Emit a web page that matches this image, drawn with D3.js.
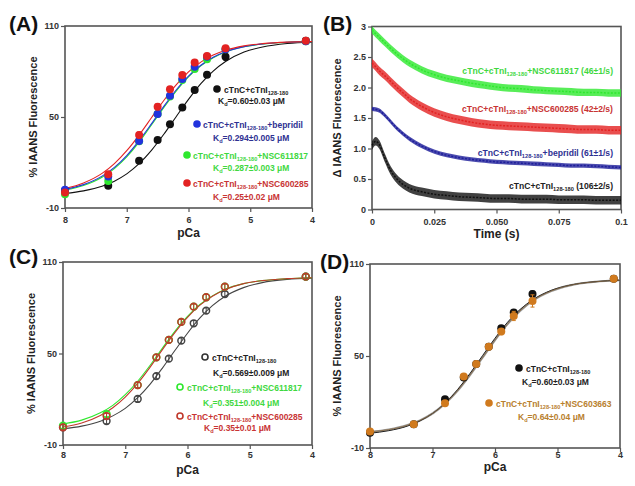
<!DOCTYPE html>
<html><head><meta charset="utf-8">
<script src="https://cdn.jsdelivr.net/npm/d3@7"></script>
<style>
body{margin:0;background:#fff}
text{font-family:"Liberation Sans",Arial,sans-serif;font-weight:bold}
</style>
</head><body>
<svg id="c" width="635" height="486"></svg>
<script>
// ---------- DATA ----------
const pCa = [8, 7.3, 6.8, 6.5, 6.3, 6.1, 5.9, 5.7, 5.4, 4.1];
const pCaTicks = [8, 7, 6, 5, 4];
const pctTicks = [-10, 50, 110];

// Panel A measured points
const aBlack = [1.5, 4.7, 21.2, 34.8, 45.2, 56.2, 67.8, 77.9, 89.8, 100.3];
const aBlue  = [2, 10.7, 34.2, 52, 64, 75, 83.2, 89.8, 94.6, 100];
const aGreen = [-1, 7.8, 34, 52, 63.5, 74.4, 81.7, 88, 94.6, 100];
const aRed   = [0.3, 12.2, 38.1, 56.8, 68.3, 77.7, 86, 90.2, 95.3, 100.3];
const aBlackErr = [0.5, 1, 1, 1, 1, 1, 1, 1, 2.5, 0.5];
const aRedErr   = [0.5, 1, 2, 2, 1, 1, 1, 1, 1, 0.5];

// fitted curves
const fitPca = [8, 7.7, 7.4, 7.2, 7.0, 6.8, 6.6, 6.4, 6.2, 6.0, 5.8, 5.6, 5.4, 5.1, 4.8, 4.4, 4.0];
const fitABlack = [-0.4, 1.3, 4.3, 7.7, 12.5, 19.2, 28, 38.6, 50.2, 61.6, 72, 80.3, 86.6, 92.8, 96.2, 98.5, 99.4];
const fitABlue  = [2.3, 5.4, 11.0, 16.8, 24.6, 34.4, 45.5, 57, 67.8, 77, 84.1, 89.4, 93, 96.4, 98.2, 99.3, 99.7];
const fitAGreen = [1.7, 4.8, 10.3, 16.0, 23.7, 33.4, 44.7, 56.2, 67.1, 76.5, 83.7, 89.1, 92.9, 96.3, 98.1, 99.2, 99.7];
const fitARed   = [2.8, 6.5, 12.8, 19.3, 27.8, 38.1, 49.5, 60.9, 71.2, 79.7, 86.2, 90.8, 94.0, 96.9, 98.4, 99.4, 99.7];

// Panel B stopped-flow traces
const timeB = [0, 0.0015, 0.003, 0.005, 0.0075, 0.01, 0.0125, 0.015, 0.02, 0.025, 0.03, 0.035, 0.04, 0.045, 0.05, 0.055, 0.06, 0.065, 0.07, 0.075, 0.08, 0.085, 0.09, 0.095, 0.1];
const bGreen = [2.94, 2.88, 2.82, 2.74, 2.64, 2.55, 2.47, 2.40, 2.29, 2.21, 2.15, 2.11, 2.07, 2.04, 2.01, 1.99, 1.98, 1.96, 1.95, 1.94, 1.93, 1.92, 1.92, 1.91, 1.91];
const bRed   = [2.40, 2.34, 2.27, 2.20, 2.10, 2.00, 1.91, 1.82, 1.69, 1.59, 1.52, 1.47, 1.43, 1.40, 1.38, 1.37, 1.36, 1.35, 1.34, 1.33, 1.32, 1.31, 1.31, 1.30, 1.30];
const bBlue  = [1.65, 1.64, 1.62, 1.55, 1.44, 1.33, 1.24, 1.16, 1.04, 0.95, 0.89, 0.85, 0.82, 0.80, 0.78, 0.77, 0.76, 0.75, 0.74, 0.73, 0.72, 0.72, 0.71, 0.70, 0.69];
const bBlack = [1.05, 1.12, 1.06, 0.86, 0.64, 0.50, 0.41, 0.35, 0.29, 0.25, 0.23, 0.21, 0.20, 0.19, 0.18, 0.18, 0.17, 0.17, 0.17, 0.16, 0.16, 0.16, 0.15, 0.15, 0.15];
const bNoise = [0.06, 0.07, 0.035, 0.07]; // green, red, blue, black half-widths of the noise band
const timeTicks = [0, 0.025, 0.05, 0.075, 0.1];
const timeTickLabels = ["0", "0.025", "0.050", "0.075", "0.1"];
const deltaTicks = [0, 0.5, 1, 1.5, 2, 2.5, 3];
const deltaTickLabels = ["0", "0.5", "1.0", "1.5", "2.0", "2.5", "3"];

// Panel C
const cBlack = [1.6, 5.7, 20.2, 35.2, 46.6, 58.4, 69.8, 78.1, 89, 100.4];
const cGreen = [2.7, 10.3, 29.3, 47.5, 58.9, 70.7, 80.7, 86.9, 93.8, 100.4];
const cRed   = [1.6, 9, 29.3, 47.5, 58.9, 70.7, 80.7, 86.9, 93.8, 100.4];
const fitCBlack = [0.7, 2.4, 5.6, 9.1, 14.0, 21.0, 29.9, 40.6, 52.1, 63.3, 73.3, 81.4, 87.4, 93.2, 96.5, 98.6, 99.4];
const fitCGreen = [3.8, 6.3, 11.1, 16.0, 23.0, 31.8, 42.3, 53.7, 64.7, 74.3, 82.1, 87.8, 92.0, 95.8, 97.8, 99.1, 99.7];
const fitCRed   = [1.8, 4.4, 9.3, 14.4, 21.4, 30.4, 41.1, 52.7, 63.9, 73.7, 81.7, 87.6, 91.8, 95.8, 97.8, 99.1, 99.7];

// Panel D
const dBlack  = [0, 5.5, 21.8, 35.9, 44.8, 56.1, 68.1, 78.3, 90.4, 100.4];
const dOrange = [0.7, 5.5, 19.2, 36.6, 44.8, 56.1, 65.9, 76.1, 85.9, 100.4];
const dBlackErr  = [0.5, 0.5, 1, 1, 1, 1, 1, 1.5, 2, 0.5];
const dOrangeErr = [0.5, 0.5, 1.5, 1, 1, 1, 2, 3, 4, 0.5];
const fitDBlack  = [-0.4, 1.3, 4.3, 7.7, 12.5, 19.2, 28, 38.6, 50.2, 61.6, 72, 80.3, 86.6, 92.8, 96.2, 98.5, 99.4];
const fitDOrange = [0.5, 2.0, 4.9, 8.0, 12.5, 18.9, 27.3, 37.6, 48.9, 60.4, 70.8, 79.4, 86.0, 92.4, 96.1, 98.4, 99.4];

// Colours
const C = {black:"#111", blue:"#2233dd", blueTxt:"#2e3192", blueTrace:"#1e1e9a",
  green:"#2ee82e", greenTxt:"#3fd83f", red:"#e32222", redTxt:"#c83434", redC:"#c0392b",
  orange:"#d07a1e", orangeTxt:"#b8802e", frame:"#555"};

// ---------- DRAW ----------
const svg = d3.select("#c");

function makePanel(o){
  const g = svg.append("g");
  const x = d3.scaleLinear().domain(o.xd).range([o.x0, o.x1]);
  const y = d3.scaleLinear().domain(o.yd).range([o.y1, o.y0]);
  const xa = d3.axisBottom(x).tickValues(o.xt).tickSize(4).tickSizeOuter(0)
     .tickFormat((d,i)=> o.xl ? o.xl[i] : d);
  const ya = d3.axisLeft(y).tickValues(o.yt).tickSize(4).tickSizeOuter(0)
     .tickFormat((d,i)=> o.yl ? o.yl[i] : d);
  const gx = g.append("g").attr("transform",`translate(0,${o.y1})`).call(xa);
  const gy = g.append("g").attr("transform",`translate(${o.x0},0)`).call(ya);
  [gx,gy].forEach(a=>{
    a.select(".domain").remove();
    a.selectAll("line").attr("stroke",C.frame).attr("stroke-width",1.2);
    a.selectAll("text").attr("font-size",9).attr("fill","#333")
      .style("font-family","'Liberation Sans',Arial,sans-serif").style("font-weight","bold");
  });
  gx.selectAll("text").attr("y",o.tickOff).attr("dy",0);
  gy.selectAll("text").attr("x",-6);
  g.append("rect").attr("x",o.x0).attr("y",o.y0).attr("width",o.x1-o.x0).attr("height",o.y1-o.y0)
    .attr("fill","none").attr("stroke",C.frame).attr("stroke-width",1.6);
  g.append("text").attr("x",o.tagX).attr("y",o.tagY).attr("font-size",21).attr("fill","#111").text(o.tag);
  g.append("text").attr("x",(o.x0+o.x1)/2).attr("y",o.xlabY).attr("text-anchor","middle")
    .attr("font-size",12).attr("fill","#222").text(o.xlab);
  g.append("text").attr("transform",`translate(${o.ylabX},${(o.y0+o.y1)/2}) rotate(-90)`)
    .attr("text-anchor","middle").attr("font-size",11).attr("fill","#222").text(o.ylab);
  const plot = g.append("g");
  return {g:plot, x, y};
}

function fitLine(p, xs, ys, color, w){
  const line = d3.line().x((d,i)=>p.x(xs[i])).y(d=>p.y(d)).curve(d3.curveMonotoneX);
  p.g.append("path").datum(ys).attr("d",line).attr("fill","none")
    .attr("stroke",color).attr("stroke-width",w||1.1);
}
function points(p, ys, color, errs, open){
  if (errs){
    ys.forEach((v,i)=>{
      const e = errs[i], xx = p.x(pCa[i]);
      p.g.append("line").attr("x1",xx).attr("x2",xx).attr("y1",p.y(v-e)).attr("y2",p.y(v+e))
        .attr("stroke",color).attr("stroke-width",1);
      [v-e, v+e].forEach(z=>p.g.append("line").attr("x1",xx-2).attr("x2",xx+2)
        .attr("y1",p.y(z)).attr("y2",p.y(z)).attr("stroke",color).attr("stroke-width",1));
    });
  }
  p.g.selectAll(null).data(ys).enter().append("circle")
    .attr("cx",(d,i)=>p.x(pCa[i])).attr("cy",d=>p.y(d)).attr("r",open?3.4:4)
    .attr("fill",open?"none":color).attr("stroke",color).attr("stroke-width",open?1.5:0);
}
function label(x, y, parts, color, size, anchor){
  const fs = size||8.5;
  const t = svg.append("text").attr("x",x).attr("y",y).attr("fill",color)
    .attr("font-size",fs).attr("text-anchor",anchor||"start");
  let sub = false;
  parts.forEach(p=>{
    const ts = t.append("tspan").text(p.t);
    if (p.s && !sub){ ts.attr("dy",2.2).attr("font-size",fs*0.66); sub = true; }
    else if (!p.s && sub){ ts.attr("dy",-2.2); sub = false; }
    else if (p.s) ts.attr("font-size",fs*0.66);
  });
  return t;
}
function dot(x,y,color,open){
  svg.append("circle").attr("cx",x).attr("cy",y).attr("r",open?3:3.8)
    .attr("fill",open?"none":color).attr("stroke",color).attr("stroke-width",open?1.6:0);
}
const base = [{t:"cTnC+cTnI"},{t:"128-180",s:true}];
const kd = v => [{t:"K"},{t:"d",s:true},{t:"="+v+" \u03BCM"}];

// Panel A
const pA = makePanel({x0:65,x1:312,y0:26,y1:208,xd:[8,4],yd:[-10,110],xt:pCaTicks,yt:pctTicks,tickOff:15,
  tag:"(A)",tagX:9,tagY:31,xlab:"pCa",xlabY:237,ylab:"% IAANS Fluorescence",ylabX:37});
fitLine(pA, fitPca, fitABlack, C.black);
fitLine(pA, fitPca, fitAGreen, C.green);
fitLine(pA, fitPca, fitABlue, C.blue);
fitLine(pA, fitPca, fitARed, C.red);
points(pA, aBlack, C.black, aBlackErr);
points(pA, aGreen, C.green);
points(pA, aBlue, C.blue);
points(pA, aRed, C.red, aRedErr);
dot(217,89,C.black); label(224,93,base,"#222");
label(218,104,kd("0.60\u00B10.03"),"#222");
dot(197,124,C.blue); label(203,128,base.concat([{t:"+bepridil"}]),C.blueTxt);
label(213,141,kd("0.294\u00B10.005"),C.blueTxt);
dot(187,155,C.green); label(193,159,base.concat([{t:"+NSC611817"}]),C.greenTxt);
label(213,171,kd("0.287\u00B10.003"),C.greenTxt);
dot(187,183,C.red); label(193,187,base.concat([{t:"+NSC600285"}]),C.redTxt);
label(213,200,kd("0.25\u00B10.02"),C.redTxt);

// Panel B
const pB = makePanel({x0:372,x1:621,y0:26.5,y1:209.5,xd:[0,0.1],yd:[0,3],xt:timeTicks,xl:timeTickLabels,
  yt:deltaTicks,yl:deltaTickLabels,tickOff:15,tag:"(B)",tagX:323,tagY:31,xlab:"Time (s)",xlabY:238,
  ylab:"\u0394 IAANS Fluorescence",ylabX:341});
[[bGreen,C.green,bNoise[0]],[bRed,C.red,bNoise[1]],[bBlue,C.blueTrace,bNoise[2]],[bBlack,C.black,bNoise[3]]]
 .forEach(([vals,col,h])=>{
  const area = d3.area().x((d,i)=>pB.x(timeB[i])).y0(d=>pB.y(d-h)).y1(d=>pB.y(d+h)).curve(d3.curveMonotoneX);
  pB.g.append("path").datum(vals).attr("d",area).attr("fill",col).attr("opacity",0.8);
  const line = d3.line().x((d,i)=>pB.x(timeB[i])).y(d=>pB.y(d)).curve(d3.curveMonotoneX);
  pB.g.append("path").datum(vals).attr("d",line).attr("fill","none").attr("stroke",col)
    .attr("stroke-width",1.5).attr("stroke-dasharray","2,1.5");
});
label(613,74,base.concat([{t:"+NSC611817 (46\u00B11/s)"}]),C.greenTxt,8.6,"end");
label(613,112,base.concat([{t:"+NSC600285 (42\u00B12/s)"}]),C.redTxt,8.6,"end");
label(613,156,base.concat([{t:"+bepridil (61\u00B11/s)"}]),C.blueTxt,8.6,"end");
label(613,189,base.concat([{t:" (106\u00B12/s)"}]),"#222",8.6,"end");

// Panel C
const pC = makePanel({x0:63,x1:312,y0:262,y1:445,xd:[8,4],yd:[-10,110],xt:pCaTicks,yt:pctTicks,tickOff:13,
  tag:"(C)",tagX:9,tagY:264,xlab:"pCa",xlabY:474,ylab:"% IAANS Fluorescence",ylabX:35});
fitLine(pC, fitPca, fitCBlack, "#444");
fitLine(pC, fitPca, fitCGreen, C.green);
fitLine(pC, fitPca, fitCRed, C.redC);
const smallErr = pCa.map(()=>1.8);
points(pC, cBlack, "#444", smallErr, true);
points(pC, cGreen, C.green, smallErr, true);
points(pC, cRed, C.redC, smallErr, true);
dot(205,357,"#333",true); label(212,361,base,"#222");
label(213,376,kd("0.569\u00B10.009"),"#222");
dot(180,387,C.green,true); label(187,391,base.concat([{t:"+NSC611817"}]),C.greenTxt);
label(203,406,kd("0.351\u00B10.004"),C.greenTxt);
dot(180,416,C.redC,true); label(187,420,base.concat([{t:"+NSC600285"}]),C.redTxt);
label(204,431,kd("0.35\u00B10.01"),C.redTxt);

// Panel D
const pD = makePanel({x0:370,x1:620,y0:264,y1:448,xd:[8,4],yd:[-10,110],xt:pCaTicks,yt:pctTicks,tickOff:10,
  tag:"(D)",tagX:320,tagY:269,xlab:"pCa",xlabY:471,ylab:"% IAANS Fluorescence",ylabX:341});
fitLine(pD, fitPca, fitDOrange, "#999", 2.2);
fitLine(pD, fitPca, fitDBlack, "#222", 1);
fitLine(pD, fitPca, fitDOrange, "#8a6a40", 0.8);
points(pD, dBlack, C.black, dBlackErr);
points(pD, dOrange, C.orange, dOrangeErr);
dot(519,368,C.black); label(526,372,base,"#222");
label(522,385,kd("0.60\u00B10.03"),"#222");
dot(489,403,C.orange); label(496,407,base.concat([{t:"+NSC603663"}]),C.orangeTxt);
label(518,420,kd("0.64\u00B10.04"),C.orangeTxt);
</script>
</body></html>
